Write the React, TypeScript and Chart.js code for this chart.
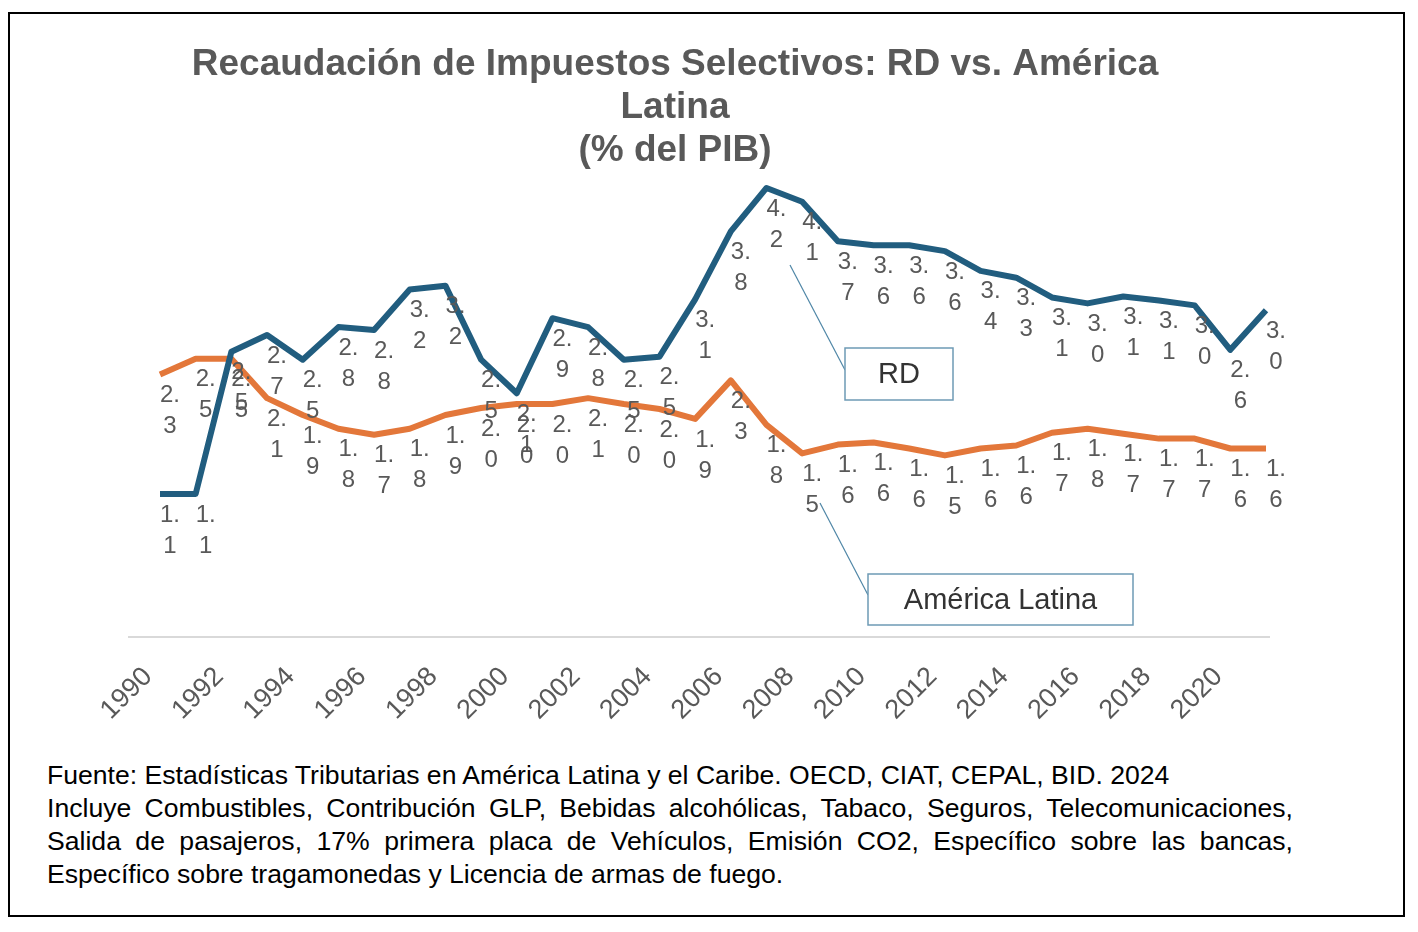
import React, { useEffect, useRef } from "react";
import { Chart, registerables } from "chart.js";

Chart.register(...registerables);

const years = [
  "1990", "1991", "1992", "1993", "1994", "1995", "1996", "1997",
  "1998", "1999", "2000", "2001", "2002", "2003", "2004", "2005",
  "2006", "2007", "2008", "2009", "2010", "2011", "2012", "2013",
  "2014", "2015", "2016", "2017", "2018", "2019", "2020", "2021",
];

const rdValues = [
  1.10, 1.10, 2.54, 2.71, 2.46, 2.79, 2.76, 3.17,
  3.21, 2.46, 2.12, 2.88, 2.79, 2.46, 2.49, 3.07,
  3.76, 4.20, 4.06, 3.66, 3.62, 3.62, 3.56, 3.36,
  3.29, 3.09, 3.03, 3.10, 3.06, 3.01, 2.56, 2.96,
];

const alValues = [
  2.31, 2.47, 2.47, 2.07, 1.90, 1.76, 1.70, 1.76,
  1.90, 1.97, 2.01, 2.01, 2.07, 2.01, 1.96, 1.86,
  2.25, 1.80, 1.51, 1.60, 1.62, 1.56, 1.49, 1.56,
  1.59, 1.72, 1.76, 1.71, 1.66, 1.66, 1.56, 1.56,
];

const titleLines = [
  "Recaudación de Impuestos Selectivos: RD vs. América",
  "Latina",
  "(% del PIB)",
];

const seriesNames = ["RD", "América Latina"];

const footLines = [
  "Fuente: Estadísticas Tributarias en América Latina y el Caribe. OECD, CIAT, CEPAL, BID. 2024",
  "Incluye Combustibles, Contribución GLP, Bebidas alcohólicas, Tabaco, Seguros, Telecomunicaciones,",
  "Salida de pasajeros, 17% primera placa de Vehículos, Emisión CO2, Específico sobre las bancas,",
  "Específico sobre tragamonedas y Licencia de armas de fuego.",
];

const FONT = '"Liberation Sans", Arial, sans-serif';
const BLUE = "#215d7f";
const ORANGE = "#e3773a";
const GRAY = "#595959";

const valueLabelPlugin = {
  id: "valueLabels",
  beforeDatasetsDraw(chart: any) {
    const { ctx, chartArea } = chart;
    ctx.save();
    ctx.strokeStyle = "#d9d9d9";
    ctx.lineWidth = 2;
    ctx.beginPath();
    ctx.moveTo(chartArea.left - 32, chartArea.bottom);
    ctx.lineTo(chartArea.right + 4, chartArea.bottom);
    ctx.stroke();
    ctx.restore();
  },
  afterDatasetsDraw(chart: any) {
    const ctx = chart.ctx;
    ctx.save();
    ctx.font = `24px ${FONT}`;
    ctx.fillStyle = GRAY;
    ctx.textAlign = "center";
    ctx.textBaseline = "middle";
    chart.data.datasets.forEach((ds: any, di: number) => {
      const meta = chart.getDatasetMeta(di);
      meta.data.forEach((pt: any, i: number) => {
        const v = ds.data[i] as number;
        const parts = v.toFixed(1).split(".");
        ctx.fillText(parts[0] + ".", pt.x + 10, pt.y + 21);
        ctx.fillText(parts[1], pt.x + 10, pt.y + 52);
      });
    });
    ctx.restore();
  },
  afterDraw(chart: any) {
    const ctx = chart.ctx;
    ctx.save();
    const drawCallout = (
      lx1: number, ly1: number, lx2: number, ly2: number,
      bx: number, by: number, bw: number, bh: number, text: string
    ) => {
      ctx.strokeStyle = "#4f86a6";
      ctx.lineWidth = 1.2;
      ctx.beginPath();
      ctx.moveTo(lx1, ly1);
      ctx.lineTo(lx2, ly2);
      ctx.stroke();
      ctx.fillStyle = "#ffffff";
      ctx.fillRect(bx, by, bw, bh);
      ctx.strokeStyle = "#6e9ab5";
      ctx.lineWidth = 1.5;
      ctx.strokeRect(bx, by, bw, bh);
      ctx.fillStyle = "#333333";
      ctx.font = `29px ${FONT}`;
      ctx.textAlign = "center";
      ctx.textBaseline = "middle";
      ctx.fillText(text, bx + bw / 2, by + bh / 2 + 1);
    };
    drawCallout(780, 251, 835, 356, 835, 334, 108, 52, seriesNames[0]);
    drawCallout(810, 489, 858, 581, 858, 560, 265, 51, seriesNames[1]);
    ctx.restore();
  },
};

function ChartCanvas() {
  const ref = useRef<HTMLCanvasElement | null>(null);
  useEffect(() => {
    if (!ref.current) return;
    const chart = new Chart(ref.current, {
      type: "line",
      data: {
        labels: years,
        datasets: [
          {
            label: seriesNames[0],
            data: rdValues,
            borderColor: BLUE,
            backgroundColor: BLUE,
            borderWidth: 6,
            pointRadius: 0,
            tension: 0,
            borderJoinStyle: "round",
            borderCapStyle: "butt",
          },
          {
            label: seriesNames[1],
            data: alValues,
            borderColor: ORANGE,
            backgroundColor: ORANGE,
            borderWidth: 6,
            pointRadius: 0,
            tension: 0,
            borderJoinStyle: "round",
            borderCapStyle: "butt",
          },
        ],
      },
      options: {
        animation: false,
        responsive: false,
        devicePixelRatio: 1,
        layout: { padding: { left: 74, right: 137, top: 0, bottom: 0 } },
        plugins: {
          legend: { display: false },
          tooltip: { enabled: false },
          title: {
            display: true,
            text: titleLines,
            color: GRAY,
            font: { family: FONT, size: 37, weight: "bold", lineHeight: 1.15 },
            padding: { top: 30, bottom: 0 },
          },
        },
        scales: {
          x: {
            grid: { display: false },
            border: { display: false },
            ticks: {
              autoSkip: false,
              minRotation: 45,
              maxRotation: 45,
              padding: 16,
              labelOffset: -12,
              color: GRAY,
              font: { family: FONT, size: 27 },
              callback: (_v: any, i: number) => (i % 2 === 0 ? years[i] : ""),
            },
            afterFit: (s: any) => {
              s.height = 103;
            },
          },
          y: {
            min: -0.35,
            max: 4.365,
            grid: { display: false },
            border: { display: false },
            ticks: { display: false },
            afterFit: (s: any) => {
              s.width = 76;
            },
          },
        },
      },
      plugins: [valueLabelPlugin],
    });
    return () => chart.destroy();
  }, []);
  return (
    <canvas
      ref={ref}
      width={1393}
      height={726}
      style={{ position: "absolute", left: 0, top: 0, width: 1393, height: 726 }}
    />
  );
}

export default function App() {
  return (
    <div
      style={{
        position: "absolute",
        left: 8,
        top: 12,
        width: 1397,
        height: 905,
        border: "2px solid #000",
        boxSizing: "border-box",
        background: "#fff",
      }}
    >
      <ChartCanvas />
      <div
        style={{
          position: "absolute",
          left: 37,
          top: 745,
          width: 1246,
          fontFamily: FONT,
          fontSize: 26.6,
          lineHeight: "33px",
          color: "#000",
        }}
      >
        {footLines.map((t, i) => (
          <div
            key={i}
            style={{
              textAlign: i === 1 || i === 2 ? "justify" : "left",
              textAlignLast: i === 1 || i === 2 ? "justify" : "left",
              whiteSpace: "nowrap",
            }}
          >
            {t}
          </div>
        ))}
      </div>
    </div>
  );
}
